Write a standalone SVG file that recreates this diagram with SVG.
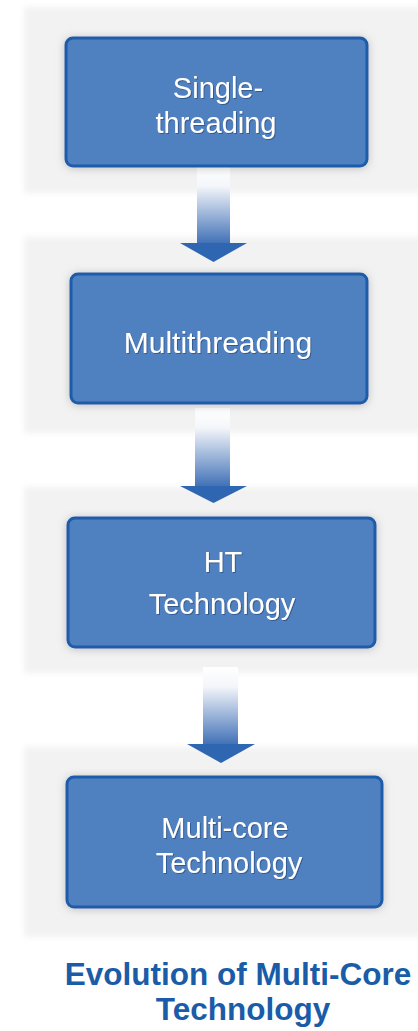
<svg xmlns="http://www.w3.org/2000/svg" width="418" height="1031" viewBox="0 0 418 1031">
<defs>
<style>
.panel{fill:#f2f2f2;filter:url(#soft)}
.box{fill:#5080bf;stroke:#1d5cab;stroke-width:3;filter:url(#shadow)}
.lbl{font-family:"Liberation Sans",Arial,sans-serif;font-size:29px;fill:#ffffff;text-anchor:middle;filter:url(#tshadow)}
.title{font-family:"Liberation Sans",Arial,sans-serif;font-size:31.5px;font-weight:bold;fill:#1a5ca8;text-anchor:middle}
.shaft{fill:url(#shaftGrad)}
.head{fill:#2f66b2}
</style>
<linearGradient id="shaftGrad" x1="0" y1="0" x2="0" y2="1">
<stop offset="0" stop-color="#ffffff"/>
<stop offset="0.25" stop-color="#f4f6fa"/>
<stop offset="1" stop-color="#3f70b6"/>
</linearGradient>
<filter id="soft" x="-5%" y="-5%" width="110%" height="110%">
<feGaussianBlur stdDeviation="3"/>
</filter>
<filter id="shadow" x="-10%" y="-20%" width="120%" height="140%">
<feDropShadow dx="0" dy="1" stdDeviation="4" flood-color="#808080" flood-opacity="0.45"/>
</filter>
<filter id="tshadow" x="-10%" y="-20%" width="120%" height="140%">
<feDropShadow dx="1" dy="1" stdDeviation="0.6" flood-color="#1d3f70" flood-opacity="0.6"/>
</filter>
</defs>
<rect width="418" height="1031" fill="#ffffff"/>
<g id="panels">
<rect class="panel" x="24" y="7" width="400" height="186"/>
<rect class="panel" x="24" y="237" width="400" height="196"/>
<rect class="panel" x="24" y="487" width="400" height="186"/>
<rect class="panel" x="24" y="747" width="400" height="190"/>
</g>
<g id="connectors">
<g id="arrow1">
<rect class="shaft" x="197" y="167" width="33" height="77"/>
<polygon class="head" points="180,243 247,243 213.5,262"/>
</g>
<g id="arrow2">
<rect class="shaft" x="195" y="408" width="35" height="79"/>
<polygon class="head" points="180,486 247,486 213.5,503"/>
</g>
<g id="arrow3">
<rect class="shaft" x="203" y="667" width="35" height="78"/>
<polygon class="head" points="187,744 255,744 221,763"/>
</g>
</g>
<g id="node-single">
<rect class="box" x="66" y="38" width="301" height="128" rx="7"/>
<text class="lbl" x="218" y="98">Single-</text>
<text class="lbl" x="216" y="133">threading</text>
</g>
<g id="node-multithreading">
<rect class="box" x="71" y="274" width="296" height="129" rx="7"/>
<text class="lbl" x="218" y="353" style="font-size:30px">Multithreading</text>
</g>
<g id="node-ht">
<rect class="box" x="68" y="518" width="307" height="129" rx="7"/>
<text class="lbl" x="223" y="572">HT</text>
<text class="lbl" x="222" y="614">Technology</text>
</g>
<g id="node-multicore">
<rect class="box" x="67" y="777" width="315" height="130" rx="7"/>
<text class="lbl" x="225" y="838">Multi-core</text>
<text class="lbl" x="229" y="873">Technology</text>
</g>
<g id="caption">
<text class="title" x="238" y="985">Evolution of Multi-Core</text>
<text class="title" x="243" y="1020">Technology</text>
</g>
</svg>
